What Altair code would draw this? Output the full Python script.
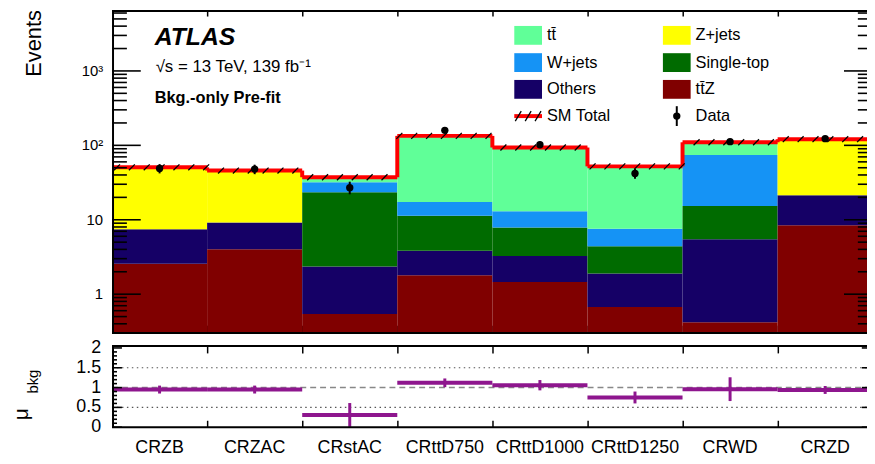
import altair as alt
import pandas as pd
import numpy as np

# ---------------- data ----------------
regions = ["CRZB", "CRZAC", "CRstAC", "CRttD750", "CRttD1000", "CRttD1250", "CRWD", "CRZD"]
ttZ = [2.56, 4.02, 0.54, 1.79, 1.46, 0.67, 0.42, 8.47]
others = [4.87, 5.18, 1.82, 2.03, 1.81, 1.22, 5.04, 12.8]
single_top = [0.0, 0.0, 21.1, 7.5, 4.6, 2.5, 9.9, 0.0]
wjets = [0.0, 0.0, 8.5, 6.0, 5.1, 3.2, 59.1, 0.0]
ttbar = [0.0, 0.0, 5.3, 116.7, 80.5, 44.6, 35.5, 0.0]
zjets = [43.2, 36.6, 0.0, 0.0, 0.0, 0.0, 0.0, 99.7]
data_obs = [49, 48, 27, 159, 102, 42, 112, 123]
data_lo = [42, 41, 22, 146, 92, 35.5, 101.5, 112]
data_hi = [56, 55, 32.5, 172, 112, 48.5, 122.5, 134]
mu_bkg = [0.95, 0.95, 0.31, 1.12, 1.06, 0.75, 0.96, 0.94]
mu_err = [0.10, 0.10, 0.30, 0.11, 0.13, 0.15, 0.30, 0.10]

proc_names = ["ttZ", "Others", "Single-top", "W+jets", "ttbar", "Z+jets"]
proc_colors = ["#800000", "#150066", "#006b00", "#1593f5", "#60ff98", "#ffff00"]
series = [ttZ, others, single_top, wjets, ttbar, zjets]

# ---------------- layout constants (plot coords, origin at page y=8) ----------------
W, H = 762, 421
XMAX = 7.94
YMIN, YMAX = 0.3, 6570
TOP_H = 326
LOW_T, LOW_B = 339, 421
MU_MAX = 2.05
PURPLE = "#8e168e"
FONT = "Liberation Sans"
pxu = W / XMAX
RIGHT = 8 * pxu

XS = alt.Scale(domain=[0, XMAX], nice=False, zero=False)
YT = alt.Scale(type="log", domain=[YMIN, YMAX], range=[TOP_H, 0], nice=False)
YB = alt.Scale(domain=[0, MU_MAX], range=[LOW_B, LOW_T], nice=False, zero=False)

# ---------------- tables ----------------
rows = []
for i in range(len(regions)):
    base = 0.0
    for p, s in zip(proc_names, series):
        v = s[i]
        lo, hi = base, base + v
        base = hi
        if v > 0 and hi > YMIN:
            rows.append(dict(x0=i, x1=i + 1, lo=max(lo, YMIN), hi=hi, proc=p))
stack = pd.DataFrame(rows)

totals = [sum(s[i] for s in series) for i in range(len(regions))]
bins = pd.DataFrame(dict(
    region=regions, x0=list(range(8)), x1=[i + 1 for i in range(8)],
    xc=[i + 0.5 for i in range(8)], total=totals, obs=data_obs,
    lo=data_lo, hi=data_hi, mu=mu_bkg,
    mlo=[m - e for m, e in zip(mu_bkg, mu_err)], mhi=[m + e for m, e in zip(mu_bkg, mu_err)],
))
steps = pd.DataFrame(dict(xe=list(range(1, 8)), a=totals[:-1], b=totals[1:]))

hx = np.arange(5, W + 10, 15.0) / pxu
hatch = pd.DataFrame(dict(x=hx, y=[totals[min(int(v), 7)] for v in hx]))

one = pd.DataFrame({"k": [0]})
X = lambda f: alt.X(f, scale=XS, axis=None)

layers = []

# stacked backgrounds
layers.append(alt.Chart(stack).mark_rect().encode(
    x=X("x0:Q"), x2="x1:Q",
    y=alt.Y("lo:Q", scale=YT, axis=None), y2="hi:Q",
    color=alt.Color("proc:N", scale=alt.Scale(domain=proc_names, range=proc_colors), legend=None),
))
# SM total red step line
layers.append(alt.Chart(bins).mark_rule(color="#ff0000", strokeWidth=4).encode(
    x=X("x0:Q"), x2="x1:Q", y=alt.Y("total:Q", scale=YT, axis=None)))
layers.append(alt.Chart(steps).mark_rule(color="#ff0000", strokeWidth=4).encode(
    x=X("xe:Q"), y=alt.Y("a:Q", scale=YT, axis=None), y2="b:Q"))
# hatch
layers.append(alt.Chart(hatch).mark_point(shape="M-1,1L1,-1", size=36, color="black",
                                          strokeWidth=1.3, opacity=1).encode(
    x=X("x:Q"), y=alt.Y("y:Q", scale=YT, axis=None)))
# data
layers.append(alt.Chart(bins).mark_rule(color="black", strokeWidth=2).encode(
    x=X("xc:Q"), y=alt.Y("lo:Q", scale=YT, axis=None), y2="hi:Q"))
layers.append(alt.Chart(bins).mark_circle(color="black", size=55, opacity=1).encode(
    x=X("xc:Q"), y=alt.Y("obs:Q", scale=YT, axis=None)))

# lower panel grid
for v, dash, col, sw in [(0.5, [1.5, 3.5], "#555555", 1.2), (1.5, [1.5, 3.5], "#555555", 1.2),
                         (1.0, [6, 4], "#888888", 1.6)]:
    layers.append(alt.Chart(pd.DataFrame({"g": [v]})).mark_rule(
        color=col, strokeDash=dash, strokeWidth=sw).encode(
        x=alt.value(0), x2=alt.value(W), y=alt.Y("g:Q", scale=YB, axis=None)))
# mu bars
layers.append(alt.Chart(bins).mark_rule(color=PURPLE, strokeWidth=4).encode(
    x=X("x0:Q"), x2="x1:Q", y=alt.Y("mu:Q", scale=YB, axis=None)))
layers.append(alt.Chart(bins).mark_rule(color=PURPLE, strokeWidth=3).encode(
    x=X("xc:Q"), y=alt.Y("mlo:Q", scale=YB, axis=None), y2="mhi:Q"))

# ---------------- frames ----------------
def hrule(y, x1=0, x2=W, sw=2):
    return alt.Chart(one).mark_rule(color="black", strokeWidth=sw).encode(
        x=alt.value(x1), x2=alt.value(x2), y=alt.value(y))

def vrule(x, y1, y2, sw=2):
    return alt.Chart(one).mark_rule(color="black", strokeWidth=sw).encode(
        x=alt.value(x), y=alt.value(y1), y2=alt.value(y2))

layers += [hrule(1), hrule(TOP_H), vrule(1, 0, TOP_H),
           hrule(LOW_T), hrule(LOW_B), vrule(1, LOW_T, LOW_B)]

# x ticks at bin edges (axes, inward)
def xticks(orient, offset, size):
    ax = alt.Axis(orient=orient, offset=offset, values=list(range(1, 8)), tickSize=size, tickWidth=1.5,
                  tickColor="black", labels=False, domain=False, grid=False, title="")
    return alt.Chart(pd.DataFrame({"e": list(range(1, 8))})).mark_rule(opacity=0).encode(
        x=alt.X("e:Q", scale=XS, axis=ax), y=alt.value(0), y2=alt.value(1))

layers += [xticks("bottom", -H, 6), xticks("top", -TOP_H, 8),
           xticks("bottom", LOW_T - H, 7), xticks("top", -LOW_B, 7)]

# inward y ticks (axis decoration), drawn as thin rectangles at the rows of the same mappings
major_log = [1, 10, 100, 1000]
minor_log = [m * 10.0 ** e for e in range(-1, 4) for m in range(2, 10)
             if YMIN <= m * 10.0 ** e <= YMAX]
major_lin = [0, 0.5, 1, 1.5, 2]
minor_lin = [round(0.1 * k, 1) for k in range(0, 21) if k % 5 != 0]

lmin, lmax = np.log10(YMIN), np.log10(YMAX)
ypx_log = lambda v: TOP_H * (lmax - np.log10(v)) / (lmax - lmin)
ypx_lin = lambda v: LOW_B - (LOW_B - LOW_T) * v / MU_MAX

def tickrect(y, x1, x2, h=1.6):
    y = round(float(y), 2)
    return alt.Chart(one).mark_rect(color="black").encode(
        x=alt.value(round(float(x1), 2)), x2=alt.value(round(float(x2), 2)),
        y=alt.value(y - h / 2), y2=alt.value(y + h / 2))

for vals, ln in [(major_log, 29), (minor_log, 15)]:
    for v in vals:
        y = ypx_log(v)
        layers.append(tickrect(y, 0, ln))
        layers.append(tickrect(y, RIGHT - ln, RIGHT))
for vals, ln_l, ln_r in [(major_lin, 10, 11), (minor_lin, 5, 5)]:
    for v in vals:
        y = ypx_lin(v)
        layers.append(tickrect(y, 0, ln_l))
        layers.append(tickrect(y, RIGHT - ln_r, RIGHT))

# ---------------- tick labels ----------------
layers.append(alt.Chart(pd.DataFrame({"lv": major_log, "t": ["1", "10", "10²", "10³"]})).mark_text(
    align="right", baseline="middle", font=FONT, fontSize=15, color="black").encode(
    x=alt.value(-9), y=alt.Y("lv:Q", scale=YT, axis=None), text="t:N"))
layers.append(alt.Chart(pd.DataFrame({"bv": major_lin, "t": ["0", "0.5", "1", "1.5", "2"]})).mark_text(
    align="right", baseline="middle", font=FONT, fontSize=18, color="black").encode(
    x=alt.value(-11), y=alt.Y("bv:Q", scale=YB, axis=None), text="t:N"))
layers.append(alt.Chart(bins).mark_text(
    align="center", baseline="middle", font=FONT, fontSize=18, color="black").encode(
    x=X("xc:Q"), y=alt.value(442), text="region:N"))

def txt(s, x, y, size, **kw):
    return alt.Chart(one).mark_text(text=s, font=FONT, fontSize=size, color="black", **kw).encode(
        x=alt.value(x), y=alt.value(y))

layers.append(txt("Events", -72, 0, 22, angle=270, align="right", baseline="alphabetic"))
layers.append(txt("μ", -85, 408, 21, angle=270, align="center", baseline="alphabetic"))
layers.append(txt("bkg", -75, 375, 15, angle=270, align="center", baseline="alphabetic"))

layers.append(txt("ATLAS", 43, 35, 25, fontStyle="italic", fontWeight="bold", align="left", baseline="alphabetic"))
layers.append(txt("√s = 13 TeV, 139 fb⁻¹", 44, 62, 17, align="left", baseline="alphabetic"))
layers.append(txt("Bkg.-only Pre-fit", 43, 94, 16.5, fontWeight="bold", align="left", baseline="alphabetic"))

# ---------------- legend ----------------
row_y = [25.5, 53, 80, 107]
col_x = [406, 556]
leg = [
    (0, 0, "t" + "t\u0304", "#60ff98"), (0, 1, "W+jets", "#1593f5"), (0, 2, "Others", "#150066"),
    (1, 0, "Z+jets", "#ffff00"), (1, 1, "Single-top", "#006b00"), (1, 2, "t" + "t\u0304" + "Z", "#800000"),
]
for c, r, lab, colr in leg:
    layers.append(alt.Chart(one).mark_rect(color=colr).encode(
        x=alt.value(col_x[c]), x2=alt.value(col_x[c] + 28),
        y=alt.value(row_y[r] - 9.5), y2=alt.value(row_y[r] + 9.5)))
    layers.append(txt(lab, col_x[c] + 33, row_y[r], 16.5, align="left", baseline="middle"))
layers.append(alt.Chart(one).mark_rule(color="#ff0000", strokeWidth=4).encode(
    x=alt.value(col_x[0]), x2=alt.value(col_x[0] + 28), y=alt.value(row_y[3])))
for dx in [1, 11, 21]:
    layers.append(alt.Chart(one).mark_rule(color="black", strokeWidth=1.3).encode(
        x=alt.value(col_x[0] + dx), x2=alt.value(col_x[0] + dx + 6),
        y=alt.value(row_y[3] + 5), y2=alt.value(row_y[3] - 5)))
layers.append(txt("SM Total", col_x[0] + 33, row_y[3], 16.5, align="left", baseline="middle"))
layers.append(alt.Chart(one).mark_rule(color="black", strokeWidth=2).encode(
    x=alt.value(570), y=alt.value(row_y[3] - 10), y2=alt.value(row_y[3] + 10)))
layers.append(alt.Chart(one).mark_circle(color="black", size=55, opacity=1).encode(
    x=alt.value(570), y=alt.value(row_y[3])))
layers.append(txt("Data", col_x[1] + 33, row_y[3], 16.5, align="left", baseline="middle"))

chart = alt.layer(*layers).resolve_scale(x="independent", y="independent").properties(
    width=W, height=H,
    autosize=alt.AutoSizeParams(type="none"),
    padding={"left": 105, "top": 0, "right": 0, "bottom": 33},
    background="white",
).configure_view(stroke=None)

chart.save("out.html", embed_options={"renderer": "svg", "actions": False})
